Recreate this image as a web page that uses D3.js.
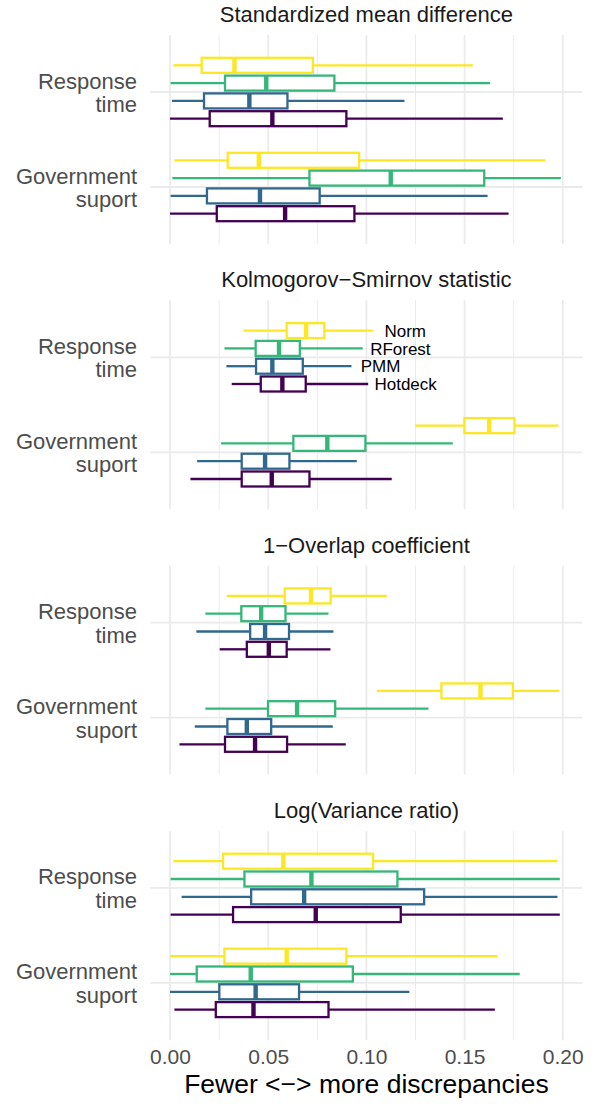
<!DOCTYPE html>
<html>
<head>
<meta charset="utf-8">
<script src="https://cdn.jsdelivr.net/npm/d3@7"></script>
<style>
  body { margin: 0; background: #fff; }
  text { font-family: "Liberation Sans", Arial, Helvetica, sans-serif; }
</style>
</head>
<body>
<svg id="chart" width="593" height="1106"></svg>
<script>
// facet titles, one per panel
const metrics = [
  "Standardized mean difference",
  "Kolmogorov\u2212Smirnov statistic",
  "1\u2212Overlap coefficient",
  "Log(Variance ratio)"
];
const variables = ["Response time", "Government suport"];
const methods = ["Norm", "RForest", "PMM", "Hotdeck"];
const methodColors = ["#FDE725", "#35B779", "#31688E", "#440154"];

// [whisker low, q1, median, q3, whisker high] per variable, per method (Norm, RForest, PMM, Hotdeck)
const smd = [
  [[0.0017, 0.0161, 0.0328, 0.0727, 0.1542], [0.0003, 0.0280, 0.0490, 0.0837, 0.1630],
   [0.0010, 0.0173, 0.0404, 0.0598, 0.1194], [0.0000, 0.0202, 0.0521, 0.0898, 0.1695]],
  [[0.0022, 0.0294, 0.0452, 0.0963, 0.1912], [0.0012, 0.0710, 0.1124, 0.1600, 0.1990],
   [0.0003, 0.0188, 0.0458, 0.0762, 0.1617], [0.0000, 0.0238, 0.0586, 0.0939, 0.1724]]
];
const ks = [
  [[0.0374, 0.0594, 0.0693, 0.0786, 0.1036], [0.0277, 0.0436, 0.0555, 0.0661, 0.0981],
   [0.0287, 0.0438, 0.0521, 0.0676, 0.0924], [0.0314, 0.0462, 0.0572, 0.0691, 0.1009]],
  [[0.1248, 0.1499, 0.1625, 0.1754, 0.1978], [0.0260, 0.0628, 0.0801, 0.0995, 0.1440],
   [0.0138, 0.0365, 0.0484, 0.0608, 0.0951], [0.0104, 0.0365, 0.0518, 0.0710, 0.1129]]
];
const overlap = [
  [[0.0289, 0.0584, 0.0718, 0.0818, 0.1104], [0.0180, 0.0363, 0.0464, 0.0588, 0.0807],
   [0.0134, 0.0408, 0.0484, 0.0606, 0.0832], [0.0253, 0.0391, 0.0503, 0.0594, 0.0817]],
  [[0.1053, 0.1382, 0.1581, 0.1746, 0.1983], [0.0180, 0.0499, 0.0647, 0.0841, 0.1316],
   [0.0126, 0.0292, 0.0391, 0.0515, 0.0829], [0.0048, 0.0280, 0.0433, 0.0596, 0.0895]]
];
const logVar = [
  [[0.0017, 0.0270, 0.0577, 0.1034, 0.1973], [0.0003, 0.0379, 0.0720, 0.1158, 0.1985],
   [0.0059, 0.0413, 0.0683, 0.1294, 0.1973], [0.0003, 0.0321, 0.0742, 0.1175, 0.1985]],
  [[0.0000, 0.0277, 0.0594, 0.0898, 0.1668], [0.0000, 0.0136, 0.0411, 0.0931, 0.1781],
   [0.0000, 0.0251, 0.0436, 0.0657, 0.1219], [0.0022, 0.0233, 0.0425, 0.0807, 0.1654]]
];
const panelStats = [smd, ks, overlap, logVar];

// method labels drawn inside the KS panel, next to the "Response time" boxes
const labelPanel = 1;
const labelX = [0.1092, 0.1019, 0.0971, 0.1041];

const xTitle = "Fewer <\u2212> more discrepancies";

// Layout
const panelLeft = 150.4;
const panelRight = 582.4;
const firstPanelTop = 35;
const panelStep = 265.3;
const panelHeight = 209;
const boxHeight = 15;

const svg = d3.select("#chart");

const x = d3.scaleLinear()
  .domain([-0.01, 0.21])
  .range([panelLeft, panelRight]);

const y = d3.scalePoint()
  .domain(variables)
  .range([0, panelHeight])
  .padding(0.6);

const dodge = d3.scaleBand()
  .domain(methods)
  .range([-35.6, 35.6]);

const color = d3.scaleOrdinal()
  .domain(methods)
  .range(methodColors);

const majorTicks = x.ticks(5);
const minorTicks = d3.range(0.025, 0.2, 0.05);

panelStats.forEach((stats, p) => {
  const top = firstPanelTop + p * panelStep;
  const g = svg.append("g")
    .attr("transform", `translate(0, ${top})`);

  // grid
  g.selectAll("line.minor")
    .data(minorTicks)
    .enter()
    .append("line")
    .attr("x1", (d) => x(d))
    .attr("x2", (d) => x(d))
    .attr("y1", 0)
    .attr("y2", panelHeight)
    .attr("stroke", "#ebebeb")
    .attr("stroke-width", 1);

  g.selectAll("line.major")
    .data(majorTicks)
    .enter()
    .append("line")
    .attr("x1", (d) => x(d))
    .attr("x2", (d) => x(d))
    .attr("y1", 0)
    .attr("y2", panelHeight)
    .attr("stroke", "#ebebeb")
    .attr("stroke-width", 1.8);

  g.selectAll("line.hgrid")
    .data(variables)
    .enter()
    .append("line")
    .attr("x1", panelLeft)
    .attr("x2", panelRight)
    .attr("y1", (d) => y(d))
    .attr("y2", (d) => y(d))
    .attr("stroke", "#ebebeb")
    .attr("stroke-width", 1.8);

  // strip title
  g.append("text")
    .attr("x", (panelLeft + panelRight) / 2)
    .attr("y", -13)
    .attr("text-anchor", "middle")
    .attr("font-size", "22px")
    .attr("fill", "#1a1a1a")
    .text(metrics[p]);

  // y labels
  g.selectAll("text.ylab")
    .data(variables)
    .enter()
    .append("text")
    .attr("text-anchor", "end")
    .attr("font-size", "22px")
    .attr("fill", "#4d4d4d")
    .each(function (d) {
      const lines = d.split(" ");
      const t = d3.select(this);
      lines.forEach((line, i) => {
        t.append("tspan")
          .attr("x", 137)
          .attr("y", y(d) - 3.4 + i * 23.4)
          .text(line);
      });
    });

  // boxes
  const boxes = [];
  variables.forEach((v, vi) => {
    methods.forEach((m, mi) => {
      const s = stats[vi][mi];
      boxes.push({variable: v, method: m, lo: s[0], q1: s[1], med: s[2], q3: s[3], hi: s[4]});
    });
  });

  const bg = g.selectAll("g.box")
    .data(boxes)
    .enter()
    .append("g")
    .attr("transform", (d) => `translate(0, ${y(d.variable) + dodge(d.method) + dodge.bandwidth() / 2})`);

  bg.append("line")
    .attr("x1", (d) => x(d.lo))
    .attr("x2", (d) => x(d.q1))
    .attr("stroke", (d) => color(d.method))
    .attr("stroke-width", 2.3);

  bg.append("line")
    .attr("x1", (d) => x(d.q3))
    .attr("x2", (d) => x(d.hi))
    .attr("stroke", (d) => color(d.method))
    .attr("stroke-width", 2.3);

  bg.append("rect")
    .attr("x", (d) => x(d.q1))
    .attr("y", -boxHeight / 2)
    .attr("width", (d) => x(d.q3) - x(d.q1))
    .attr("height", boxHeight)
    .attr("fill", "#fff")
    .attr("stroke", (d) => color(d.method))
    .attr("stroke-width", 2.3);

  bg.append("line")
    .attr("x1", (d) => x(d.med))
    .attr("x2", (d) => x(d.med))
    .attr("y1", -boxHeight / 2)
    .attr("y2", boxHeight / 2)
    .attr("stroke", (d) => color(d.method))
    .attr("stroke-width", 4.4);

  // method labels
  if (p === labelPanel) {
    g.selectAll("text.method")
      .data(methods)
      .enter()
      .append("text")
      .attr("x", (d, i) => x(labelX[i]))
      .attr("y", (d) => y(variables[0]) + dodge(d) + dodge.bandwidth() / 2)
      .attr("dy", "0.36em")
      .attr("font-size", "17px")
      .attr("fill", "#000")
      .text((d) => d);
  }
});

// x axis at the bottom of the last panel
const lastBottom = firstPanelTop + 3 * panelStep + panelHeight;
const xAxis = svg.append("g")
  .attr("transform", `translate(0, ${lastBottom})`)
  .call(d3.axisBottom(x).tickValues(majorTicks).tickSize(0).tickFormat(d3.format(".2f")));

xAxis.select(".domain").remove();
xAxis.selectAll("text")
  .attr("y", 1064 - lastBottom)
  .attr("dy", null)
  .attr("font-size", "21px")
  .attr("font-family", "Liberation Sans, Arial, sans-serif")
  .attr("fill", "#4d4d4d");

svg.append("text")
  .attr("x", (panelLeft + panelRight) / 2)
  .attr("y", 1093)
  .attr("text-anchor", "middle")
  .attr("font-size", "26.5px")
  .attr("fill", "#000")
  .text(xTitle);
</script>
</body>
</html>
